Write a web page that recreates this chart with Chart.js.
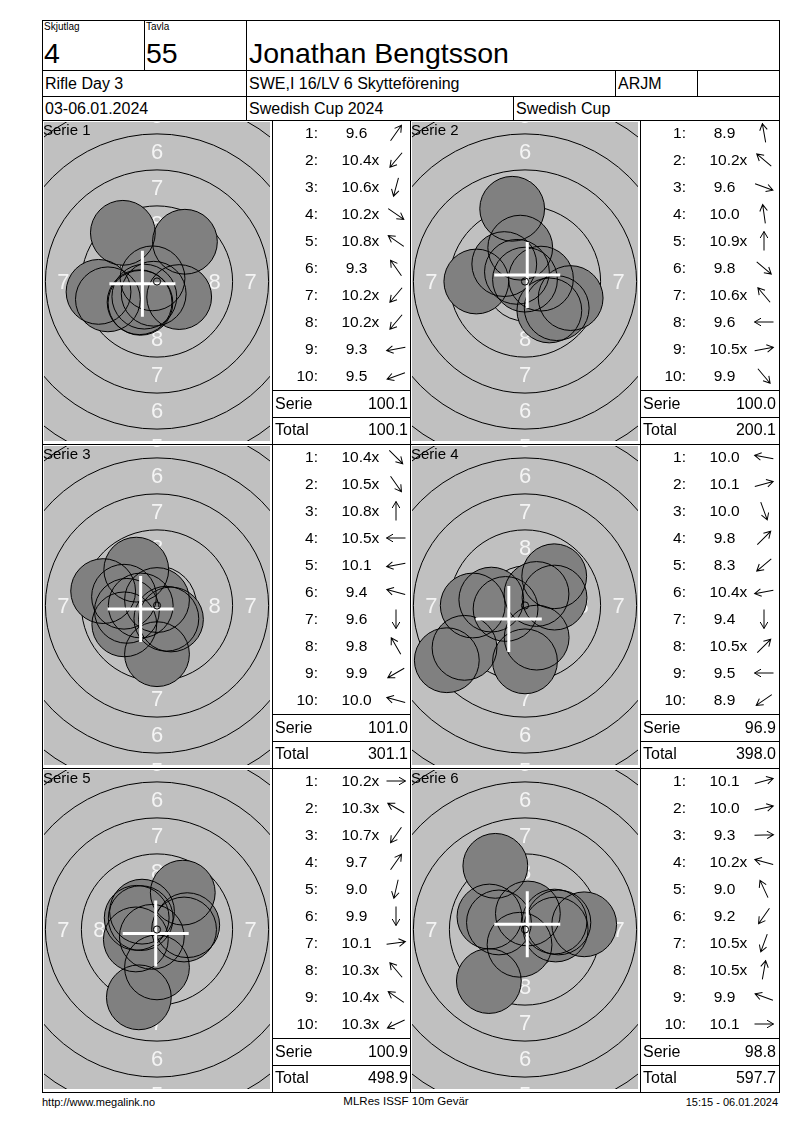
<!DOCTYPE html>
<html>
<head>
<meta charset="utf-8">
<script src="https://cdn.jsdelivr.net/npm/chart.js@4.4.1/dist/chart.umd.min.js"></script>
<style>
body{margin:0;background:#fff;font-family:"Liberation Sans",Arial,sans-serif;color:#000}
#page{position:relative;width:800px;height:1130px;overflow:hidden}
.t{position:absolute;white-space:nowrap;line-height:1}
.ln{position:absolute;background:#000}
canvas{position:absolute}
svg{position:absolute;overflow:visible}
</style>
</head>
<body>
<div id="page"></div>
<script>
// --- data ---
const seriesNames = ['Serie 1', 'Serie 2', 'Serie 3', 'Serie 4', 'Serie 5', 'Serie 6'];
const shotScores = [
  ['9.6', '10.4x', '10.6x', '10.2x', '10.8x', '9.3', '10.2x', '10.2x', '9.3', '9.5'],
  ['8.9', '10.2x', '9.6', '10.0', '10.9x', '9.8', '10.6x', '9.6', '10.5x', '9.9'],
  ['10.4x', '10.5x', '10.8x', '10.5x', '10.1', '9.4', '9.6', '9.8', '9.9', '10.0'],
  ['10.0', '10.1', '10.0', '9.8', '8.3', '10.4x', '9.4', '10.5x', '9.5', '8.9'],
  ['10.2x', '10.3x', '10.7x', '9.7', '9.0', '9.9', '10.1', '10.3x', '10.4x', '10.3x'],
  ['10.1', '10.0', '9.3', '10.2x', '9.0', '9.2', '10.5x', '10.5x', '9.9', '10.1']
];
// arrow direction of each shot, degrees counter-clockwise from "right"
const shotDirs = [
  [55, 230, 255, 325, 145, 125, 230, 230, 190, 200],
  [100, 140, 340, 98, 90, 320, 130, 180, 10, 310],
  [315, 305, 90, 180, 190, 165, 270, 120, 210, 165],
  [170, 15, 290, 45, 220, 190, 270, 45, 180, 215],
  [0, 150, 235, 55, 257, 270, 8, 130, 145, 205],
  [15, 12, 2, 165, 115, 235, 250, 80, 160, 0]
];
// shot centres on the target, mm (x right, y up)
const shotX = [
  [1.94, -0.88, -0.23, 1.54, -0.31, -2.37, -1.21, -1.15, -4.06, -3.41],
  [-0.89, -1.44, 3.17, -0.33, 0.00, 2.20, -0.56, -3.38, 1.11, 1.69],
  [0.97, 0.65, 0.00, -1.13, -2.09, -3.74, 0.00, -1.44, -2.27, -2.29],
  [-2.34, 2.05, 0.81, 2.03, -5.43, -1.35, 0.00, 0.80, -3.63, -4.20],
  [1.88, -1.41, -0.36, 1.79, -1.26, 0.00, 2.10, -1.04, -1.13, -1.47],
  [2.05, 2.32, 4.11, -1.81, -2.06, -2.51, -0.38, 0.20, -2.47, 2.13]
];
const shotY = [
  [2.76, -1.05, -0.85, -1.08, 0.22, 3.38, -1.44, -1.48, -0.72, -1.24],
  [5.05, 1.21, -1.15, 2.35, 0.13, -1.85, 0.67, 0.00, 0.20, -2.01],
  [-0.97, -0.92, 0.38, 0.00, -0.37, 1.00, -3.38, 2.49, -1.31, 0.61],
  [0.41, 0.55, -2.23, 2.03, -3.80, -0.24, -3.88, 0.80, 0.00, -2.94],
  [0.00, 0.81, -0.51, 2.56, -4.71, -2.63, 0.30, 1.24, 0.79, -0.69],
  [0.55, 0.49, 0.36, 0.49, 4.42, -3.58, -1.06, 1.11, 0.90, 0.00]
];
const serieSums = ['100.1', '100.0', '101.0', '96.9', '100.9', '98.8'];
const runningTotals = ['100.1', '200.1', '301.1', '398.0', '498.9', '597.7'];

// --- target geometry (10m air rifle face) ---
const PX_PER_MM = 14.4;
const PELLET_R = 2.25;
const RING_RADII = [2.75, 5.25, 7.75, 10.25, 12.75, 15.25, 17.75];
const RING_LABELS = [[8, 4], [7, 6.5], [6, 9], [5, 11.5]];

const page = document.getElementById('page');

function text(s, x, y, size, align) {
  const d = document.createElement('div');
  d.className = 't';
  d.style.fontSize = size + 'px';
  d.style.left = x + 'px';
  d.style.top = y + 'px';
  const tx = align === 'right' ? '-100%' : align === 'center' ? '-50%' : '0';
  d.style.transform = 'translate(' + tx + ',-50%)';
  d.textContent = s;
  page.appendChild(d);
  return d;
}
function hline(x1, x2, y) {
  const d = document.createElement('div');
  d.className = 'ln';
  d.style.cssText = 'left:' + x1 + 'px;top:' + y + 'px;width:' + (x2 - x1 + 1) + 'px;height:1px';
  page.appendChild(d);
}
function vline(x, y1, y2) {
  const d = document.createElement('div');
  d.className = 'ln';
  d.style.cssText = 'left:' + x + 'px;top:' + y1 + 'px;width:1px;height:' + (y2 - y1 + 1) + 'px';
  page.appendChild(d);
}
function arrow(cx, cy, deg) {
  const ns = 'http://www.w3.org/2000/svg';
  const svg = document.createElementNS(ns, 'svg');
  svg.setAttribute('width', 24);
  svg.setAttribute('height', 24);
  svg.style.left = (cx - 12) + 'px';
  svg.style.top = (cy - 12) + 'px';
  const p = document.createElementNS(ns, 'path');
  p.setAttribute('d', 'M-9.5 0H9.5M3 -3.8L9.5 0L3 3.8');
  p.setAttribute('stroke', '#000');
  p.setAttribute('fill', 'none');
  p.setAttribute('stroke-width', '1');
  p.setAttribute('transform', 'translate(12 12) rotate(' + (-deg) + ')');
  svg.appendChild(p);
  page.appendChild(svg);
}

// --- header ---
const L = 42, R = 779, TOP = 20, BOT = 1092;
hline(L, R, TOP); hline(L, R, BOT); vline(L, TOP, BOT); vline(R, TOP, BOT);
hline(L, R, 70); hline(L, R, 96); hline(L, R, 120);
vline(144, 20, 70); vline(246, 20, 120);
vline(615, 70, 96); vline(697, 70, 96); vline(513, 96, 120);
text('Skjutlag', 44, 27, 10);
text('Tavla', 146, 27, 10);
text('4', 44, 53, 28.5);
text('55', 146, 53, 28.5);
text('Jonathan Bengtsson', 249, 53, 28.5);
text('Rifle Day 3', 45, 84, 16);
text('SWE,I 16/LV 6 Skytteförening', 249, 84, 16);
text('ARJM', 618, 84, 16);
text('03-06.01.2024', 45, 108.5, 16);
text('Swedish Cup 2024', 249, 108.5, 16);
text('Swedish Cup', 516, 108.5, 16);

// --- footer ---
text('http://www.megalink.no', 42, 1102, 11);
text('MLRes ISSF 10m Gevär', 406, 1102, 11.5, 'center');
text('15:15 - 06.01.2024', 778, 1102, 11, 'right');

// --- target face plugin ---
const targetFace = {
  id: 'targetFace',
  beforeDatasetsDraw(chart) {
    const { ctx, chartArea: a, scales: { x, y } } = chart;
    const cx = x.getPixelForValue(0), cy = y.getPixelForValue(0);
    const k = x.getPixelForValue(1) - cx;
    ctx.save();
    ctx.beginPath();
    ctx.rect(a.left, a.top, a.right - a.left, a.bottom - a.top);
    ctx.clip();
    ctx.fillStyle = '#c0c0c0';
    ctx.fillRect(a.left, a.top, a.right - a.left, a.bottom - a.top);
    ctx.fillStyle = '#f4f4f4';
    ctx.font = '22px "Liberation Sans", Arial, sans-serif';
    ctx.textAlign = 'center';
    ctx.textBaseline = 'middle';
    RING_LABELS.forEach(([n, r]) => {
      const d = r * k;
      ctx.fillText(String(n), cx, cy - d + 1);
      ctx.fillText(String(n), cx, cy + d + 1);
      ctx.fillText(String(n), cx - d, cy + 1);
      ctx.fillText(String(n), cx + d, cy + 1);
    });
    ctx.strokeStyle = '#000';
    ctx.lineWidth = 1;
    RING_RADII.forEach(r => {
      ctx.beginPath();
      ctx.arc(cx, cy, r * k, 0, Math.PI * 2);
      ctx.stroke();
    });
    ctx.restore();
  },
  afterDatasetsDraw(chart) {
    const { ctx, scales: { x, y } } = chart;
    const cx = x.getPixelForValue(0), cy = y.getPixelForValue(0);
    const k = x.getPixelForValue(1) - cx;
    ctx.save();
    ctx.strokeStyle = '#000';
    ctx.lineWidth = 1;
    ctx.beginPath();
    ctx.arc(cx, cy, 0.25 * k, 0, Math.PI * 2);
    ctx.stroke();
    ctx.restore();
  }
};

const pelletRadius = ctx => {
  const s = ctx.chart.scales.x;
  return s.getPixelForValue(PELLET_R) - s.getPixelForValue(0);
};

// --- panels ---
const colX = [[44, 272], [412, 640]];
const rowTop = [120, 444, 768];
hline(L, R, 444); hline(L, R, 768);
vline(272, 120, BOT); vline(410, 120, BOT); vline(640, 120, BOT);

seriesNames.forEach((name, i) => {
  const [tx, lx] = colX[i % 2];
  const top = rowTop[Math.floor(i / 2)];
  const W = 226, H = 319;

  const cv = document.createElement('canvas');
  cv.width = W; cv.height = H;
  cv.style.left = tx + 'px';
  cv.style.top = (top + 2) + 'px';
  cv.style.width = W + 'px';
  cv.style.height = H + 'px';
  page.appendChild(cv);

  const pts = shotX[i].map((v, j) => ({ x: v, y: shotY[i][j] }));
  const mpi = {
    x: shotX[i].reduce((s, v) => s + v, 0) / shotX[i].length,
    y: shotY[i].reduce((s, v) => s + v, 0) / shotY[i].length
  };
  const xr = W / 2 / PX_PER_MM, yr = H / 2 / PX_PER_MM;

  new Chart(cv, {
    type: 'scatter',
    data: {
      datasets: [
        { data: pts, order: 3, backgroundColor: '#808080', borderWidth: 0, pointRadius: pelletRadius },
        { data: pts, order: 2, backgroundColor: 'rgba(0,0,0,0)', borderColor: '#000', borderWidth: 1, pointRadius: pelletRadius },
        { data: [mpi], order: 1, pointStyle: 'cross', pointRadius: 33, borderColor: '#fff', borderWidth: 3 }
      ]
    },
    options: {
      responsive: false,
      animation: false,
      events: [],
      layout: { padding: 0, autoPadding: false },
      scales: {
        x: { type: 'linear', min: -xr, max: xr, display: false },
        y: { type: 'linear', min: -yr, max: yr, display: false }
      },
      plugins: { legend: { display: false }, tooltip: { enabled: false } }
    },
    plugins: [targetFace]
  });

  text(name, tx - 1, top + 9, 15);

  // score list
  shotScores[i].forEach((sc, j) => {
    const y = top + 13 + j * 26.97;
    text((j + 1) + ':', lx + 46, y, 15.5, 'right');
    const hasX = sc.endsWith('x');
    const d = text(hasX ? sc.slice(0, -1) : sc, lx + 84.5, y, 15.5, 'center');
    if (hasX) {
      const s = document.createElement('span');
      s.textContent = 'x';
      s.style.position = 'absolute';
      s.style.left = '100%';
      s.style.top = '0';
      d.appendChild(s);
    }
    arrow(lx + 124, y, shotDirs[i][j]);
  });
  hline(lx, lx + 138, top + 270);
  hline(lx, lx + 138, top + 297);
  text('Serie', lx + 3, top + 283.7, 16);
  text(serieSums[i], lx + 136, top + 283.7, 16, 'right');
  text('Total', lx + 3, top + 309.7, 16);
  text(runningTotals[i], lx + 136, top + 309.7, 16, 'right');
});
</script>
</body>
</html>
